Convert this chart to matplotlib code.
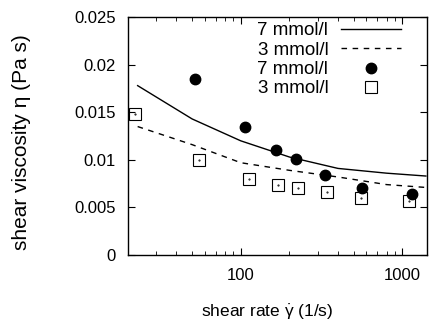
import numpy as np
import matplotlib
matplotlib.use('Agg')
import matplotlib.pyplot as plt
from matplotlib.ticker import FixedLocator, LogLocator, NullFormatter

plt.rcParams['font.family'] = ['Liberation Sans', 'DejaVu Sans']
plt.rcParams['mathtext.fontset'] = 'custom'
plt.rcParams['mathtext.rm'] = 'Liberation Sans'
plt.rcParams['mathtext.it'] = 'Liberation Sans'

# model curves
rate_line = [23, 50, 100, 200, 400, 800, 1400]
visc_7_line = [0.0178, 0.0143, 0.0120, 0.0103, 0.0091, 0.0086, 0.0083]
visc_3_line = [0.0135, 0.0116, 0.0097, 0.0089, 0.0082, 0.0074, 0.0071]

# measured points
rate_7 = [52, 106, 165, 220, 333, 561, 1143]
visc_7 = [0.0185, 0.0134, 0.0110, 0.0101, 0.0084, 0.0070, 0.0064]
rate_3 = [22, 55, 113, 171, 227, 344, 556, 1094]
visc_3 = [0.0148, 0.0100, 0.0080, 0.0074, 0.0070, 0.0066, 0.0060, 0.0057]

fig = plt.figure(figsize=(4.29, 3.23), dpi=100)
ax = fig.add_axes([0.298, 0.2105, 0.697, 0.7365])

ax.plot(rate_line, visc_7_line, '-', color='black', lw=1.0, label='7 mmol/l')
ax.plot(rate_line, visc_3_line, '--', color='black', lw=1.0, dashes=(4, 4), label='3 mmol/l')
ax.plot(rate_7, visc_7, 'o', color='black', ms=7.5, label='7 mmol/l')
ax.plot(rate_3, visc_3, 's', mfc='none', mec='black', mew=0.8, ms=8, label='3 mmol/l')
ax.plot(rate_3, visc_3, '.', color='black', ms=1)

ax.set_xscale('log')
ax.set_xlim(20, 1420)
ax.set_ylim(0, 0.025)
ax.xaxis.set_major_locator(FixedLocator([100, 1000]))
ax.xaxis.set_minor_locator(LogLocator(base=10, subs=np.arange(2, 10)))
ax.xaxis.set_minor_formatter(NullFormatter())
ax.set_xticklabels(['100', '1000'])
ax.set_yticks([0, 0.005, 0.01, 0.015, 0.02, 0.025])
ax.set_yticklabels(['0', '0.005', '0.01', '0.015', '0.02', '0.025'])

ax.tick_params(which='both', direction='in', top=True, right=True, labelsize=12)
ax.tick_params(axis='y', pad=8.5)
ax.tick_params(axis='x', pad=9)
ax.tick_params(which='major', length=5)
ax.tick_params(which='minor', length=3)
for s in ax.spines.values():
    s.set_linewidth(1.0)

ax.set_xlabel(r'shear rate $\dot{\gamma}$ (1/s)', fontsize=12.5)
ax.set_ylabel('shear viscosity η (Pa s)', fontsize=15)
ax.xaxis.set_label_coords(0.465, -0.2)
ax.yaxis.set_label_coords(-0.324, 0.475)

ax.legend(loc='upper right', bbox_to_anchor=(0.94, 1.01), frameon=False,
          markerfirst=False, fontsize=13.5, handlelength=3.2, labelspacing=0.12,
          borderaxespad=0.0, handletextpad=0.7)

fig.savefig('out.png', dpi=100)
